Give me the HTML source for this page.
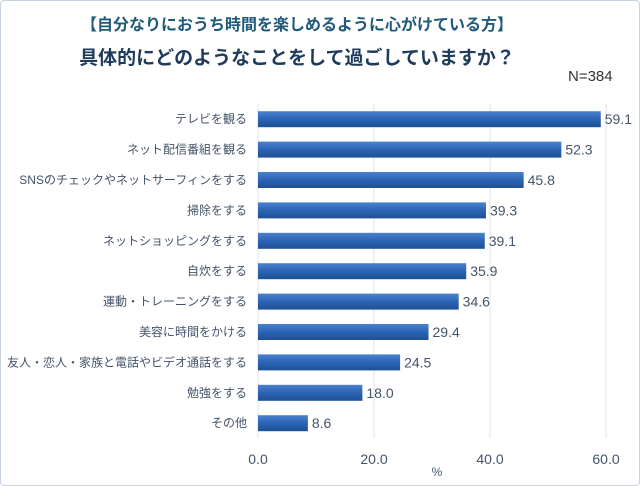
<!DOCTYPE html>
<html><head><meta charset="utf-8"><style>
body{margin:0;background:#fff;}
#wrap{position:relative;width:638px;height:484px;border:1px solid #c9d3df;border-radius:4px;overflow:hidden;font-family:"Liberation Sans","Noto Sans CJK JP",sans-serif;}
.t{position:absolute;white-space:nowrap;}
</style></head><body>
<div id="wrap">
<div class="t" style="left:0;width:592px;text-align:center;top:10px;font-size:16px;font-weight:bold;color:#1f5a7a;">【自分なりにおうち時間を楽しめるように心がけている方】</div>
<div class="t" style="left:0;width:592px;text-align:center;top:42px;font-size:19px;font-weight:bold;color:#1f3b5c;">具体的にどのようなことをして過ごしていますか？</div>
<div class="t" style="left:567px;top:67px;font-size:15px;color:#333;">N=384</div>
<svg id="c" width="640" height="486" style="position:absolute;left:0;top:0">
<defs><linearGradient id="g" x1="0" y1="0" x2="0" y2="1"><stop offset="0" stop-color="#4a82cf"/><stop offset="0.5" stop-color="#2c64b4"/><stop offset="1" stop-color="#1e4f96"/></linearGradient></defs>
</svg>
</div>
<script>
const categories=["テレビを観る","ネット配信番組を観る","SNSのチェックやネットサーフィンをする","掃除をする","ネットショッピングをする","自炊をする","運動・トレーニングをする","美容に時間をかける","友人・恋人・家族と電話やビデオ通話をする","勉強をする","その他"];
const values=[59.1,52.3,45.8,39.3,39.1,35.9,34.6,29.4,24.5,18.0,8.6];
const ticks=[0,20,40,60];
const svg=document.getElementById('c');const NS='http://www.w3.org/2000/svg';
const x=v=>257+v*5.8;
const top0=103,band=30.4,y=i=>top0+band*i+band/2;
function mk(t,a){const e=document.createElementNS(NS,t);for(const k in a)e.setAttribute(k,a[k]);svg.appendChild(e);return e;}
ticks.forEach(t=>{
const l=mk('line',{x1:x(t),x2:x(t),y1:top0,y2:top0+band*categories.length,stroke:'#dde3ea','stroke-width':1});


const tx=mk('text',{x:x(t),y:463,'text-anchor':'middle','font-size':14,fill:'#44546a'});tx.textContent=t.toFixed(1);


});
const pc=mk('text',{x:436,y:475,'text-anchor':'middle','font-size':12,fill:'#44546a'});pc.textContent='%';


categories.forEach((c,i)=>{
const cy=y(i);
const lb=mk('text',{x:246,y:cy+4,'text-anchor':'end','font-size':12,fill:'#44546a'});lb.textContent=c;


const r=mk('rect',{x:x(0),y:cy-8,width:x(values[i])-x(0),height:16,fill:'url(#g)'});


const v=mk('text',{x:x(values[i])+4,y:cy+5,'font-size':14,fill:'#44546a'});v.textContent=values[i].toFixed(1);


});
</script>
</body></html>
